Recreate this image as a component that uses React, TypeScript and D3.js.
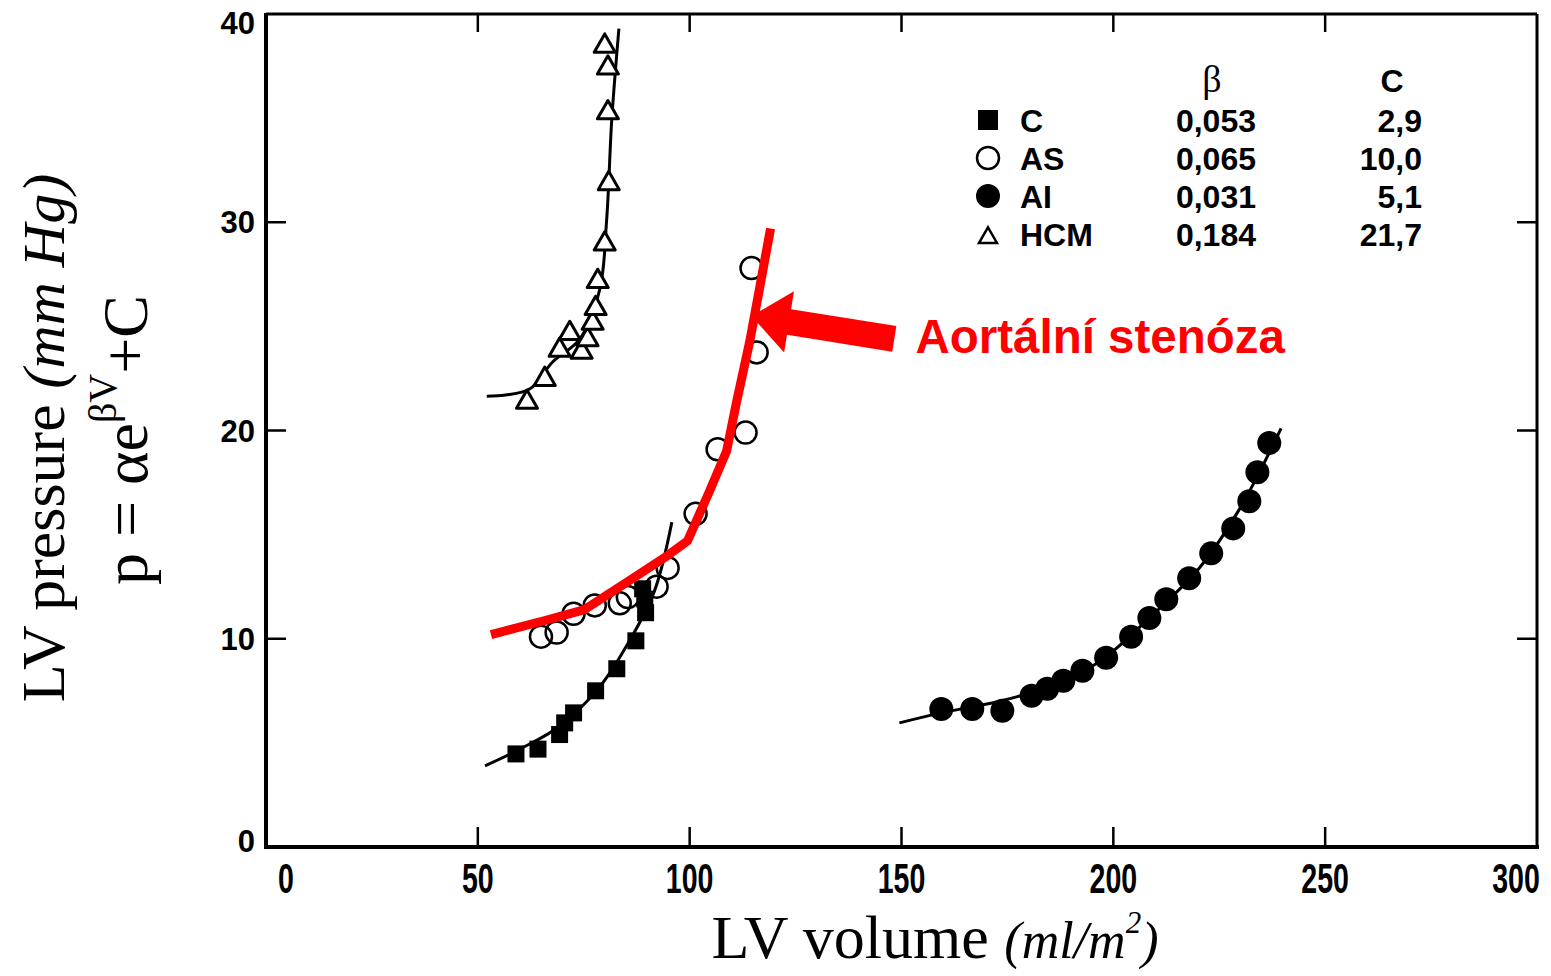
import React from "react";
import * as d3 from "d3";

// ---------- data ----------
const xTicks = [0, 50, 100, 150, 200, 250, 300];
const yTicks = [0, 10, 20, 30, 40];

// HCM (open triangles)
const hcmPoints: [number, number][] = [
  [61.6, 21.4], [65.8, 22.5], [69.3, 23.9], [71.7, 24.7], [74.5, 23.8], [75.9, 24.4],
  [77.1, 25.2], [77.8, 25.9], [78.3, 27.2], [79.95, 29.0], [80.9, 31.9], [80.7, 35.3],
  [80.7, 37.45], [79.95, 38.5],
];
const hcmCurve: [number, number][] = [
  [52.1, 21.65], [56.5, 21.7], [62.3, 22.0], [67.7, 23.3], [74.1, 24.4], [78.8, 26.8],
  [80.4, 30.1], [81.6, 34.9], [82.8, 38.1], [83.3, 39.3],
];

// Control (filled squares)
const cPoints: [number, number][] = [
  [59.0, 4.47], [64.2, 4.7], [69.3, 5.4], [70.5, 5.96], [72.6, 6.44], [77.8, 7.5],
  [82.8, 8.56], [87.3, 9.9], [89.6, 11.25], [89.4, 11.9], [88.9, 12.4],
];
const cCurve: [number, number][] = [
  [51.7, 3.9], [59.9, 4.7], [69.3, 5.8], [78.8, 7.7], [85.8, 9.9], [91.7, 12.3], [95.8, 15.6],
];

// Aortic stenosis (open circles)
const asPoints: [number, number][] = [
  [64.9, 10.1], [68.6, 10.3], [72.6, 11.2], [77.6, 11.6], [83.5, 11.7], [85.4, 12.0],
  [92.2, 12.5], [94.8, 13.4], [101.4, 16.0], [106.6, 19.1], [113.2, 19.9], [115.8, 23.75],
  [114.6, 27.8],
];
// red highlight line
const asRedLine: [number, number][] = [
  [53.1, 10.2], [66.3, 10.9], [75.2, 11.4], [85.8, 12.8], [94.1, 13.9], [99.5, 14.7],
  [104.5, 17.0], [108.7, 19.0], [111.1, 21.4], [114.2, 24.3], [119.1, 29.7],
];

// Aortic insufficiency (filled circles)
const aiPoints: [number, number][] = [
  [159.4, 6.63], [166.7, 6.63], [173.8, 6.54], [180.7, 7.26], [184.4, 7.6], [188.2, 7.98],
  [192.7, 8.46], [198.3, 9.09], [204.2, 10.1], [208.5, 11.0], [212.5, 11.9], [217.9, 12.9],
  [223.1, 14.1], [228.3, 15.3], [232.1, 16.6], [234.0, 18.0], [236.8, 19.4],
];
const aiCurve: [number, number][] = [
  [149.5, 5.96], [159.4, 6.44], [173.1, 7.0], [184.9, 7.7], [196.7, 8.9], [208.5, 11.0],
  [220.3, 13.4], [229.7, 16.2], [239.6, 20.1],
];

// legend table
const legendNames = ["C", "AS", "AI", "HCM"];
const legendBeta = ["0,053", "0,065", "0,031", "0,184"];
const legendC = ["2,9", "10,0", "5,1", "21,7"];

// annotation (data coords)
const arrowTail: [number, number] = [148.3, 24.4];
const arrowTip: [number, number] = [114.6, 25.5];
const annotationText = "Aortální stenóza";
const annotationPos: [number, number] = [153.3, 23.74];

// ---------- layout ----------
const W = 1551;
const H = 976;
const x = d3.scaleLinear().domain([0, 300]).range([266, 1537]);
const y = d3.scaleLinear().domain([0, 40]).range([847, 14]);

const sans = "'Liberation Sans', Arial, Helvetica, sans-serif";
const serif = "'Liberation Serif', 'Times New Roman', Times, serif";

const line = d3
  .line<[number, number]>()
  .x((d) => x(d[0]))
  .y((d) => y(d[1]))
  .curve(d3.curveCatmullRom.alpha(0.5));
const polyline = d3
  .line<[number, number]>()
  .x((d) => x(d[0]))
  .y((d) => y(d[1]));

function triPath(cx: number, cy: number, s: number) {
  const h = s * 0.87;
  return `M${cx},${cy - h * 0.62}L${cx + s / 2},${cy + h * 0.38}L${cx - s / 2},${cy + h * 0.38}Z`;
}

function arrowPolygon() {
  const tx = x(arrowTail[0]), ty = y(arrowTail[1]);
  const px = x(arrowTip[0]), py = y(arrowTip[1]);
  const dx = px - tx, dy = py - ty;
  const len = Math.hypot(dx, dy);
  const ux = dx / len, uy = dy / len;
  const nx = -uy, ny = ux;
  const sw = 13, hw = 31, hl = 38;
  const bx = px - ux * hl, by = py - uy * hl;
  const pts = [
    [tx + nx * sw, ty + ny * sw],
    [bx + nx * sw, by + ny * sw],
    [bx + nx * hw, by + ny * hw],
    [px, py],
    [bx - nx * hw, by - ny * hw],
    [bx - nx * sw, by - ny * sw],
    [tx - nx * sw, ty - ny * sw],
  ];
  return pts.map((p) => p.join(",")).join(" ");
}

const clamp = (v: number, lo: number, hi: number) => Math.max(lo, Math.min(hi, v));

export default function App() {
  const rowY = [132, 170, 208, 246];
  return (
    <svg
      width={W}
      height={H}
      style={{ position: "absolute", left: 0, top: 0, background: "#fff" }}
    >
      <rect x={0} y={0} width={W} height={H} fill="#fff" />
      {/* frame */}
      <line x1={x(0)} x2={x(0)} y1={y(40) - 1} y2={y(0) + 2} stroke="#000" strokeWidth={4} />
      <line x1={x(0) - 2} x2={x(300) + 2} y1={y(0)} y2={y(0)} stroke="#000" strokeWidth={4} />
      <line x1={x(0)} x2={x(300)} y1={y(40)} y2={y(40)} stroke="#000" strokeWidth={3} />
      <line x1={x(300)} x2={x(300)} y1={y(40)} y2={y(0)} stroke="#000" strokeWidth={3} />
      {/* ticks */}
      {xTicks.slice(1, -1).map((t) => (
        <g key={"xt" + t}>
          <line x1={x(t)} x2={x(t)} y1={y(0)} y2={y(0) - 20} stroke="#000" strokeWidth={2.5} />
          <line x1={x(t)} x2={x(t)} y1={y(40)} y2={y(40) + 18} stroke="#000" strokeWidth={2.5} />
        </g>
      ))}
      {yTicks.slice(1, -1).map((t) => (
        <g key={"yt" + t}>
          <line x1={x(0)} x2={x(0) + 20} y1={y(t)} y2={y(t)} stroke="#000" strokeWidth={2.5} />
          <line x1={x(300)} x2={x(300) - 20} y1={y(t)} y2={y(t)} stroke="#000" strokeWidth={2.5} />
        </g>
      ))}
      {/* tick labels */}
      {yTicks.map((t) => (
        <text
          key={"yl" + t}
          x={255}
          y={clamp(y(t), 23, 841) + 11}
          textAnchor="end"
          fontFamily={sans}
          fontWeight="bold"
          fontSize={31}
        >
          {t}
        </text>
      ))}
      {xTicks.map((t) => (
        <g key={"xl" + t} transform={`translate(${clamp(x(t), 286, 1516)},893) scale(0.68,1)`}>
          <text x={0} y={0} textAnchor="middle" fontFamily={sans} fontWeight="bold" fontSize={42}>
            {t}
          </text>
        </g>
      ))}
      {/* axis titles */}
      <text
        x={935}
        y={958}
        textAnchor="middle"
        fontFamily={serif}
        fontSize={62}
      >
        LV volume <tspan fontStyle="italic" fontSize={52}>(ml/m</tspan>
        <tspan fontStyle="italic" fontSize={31} dy={-25}>2</tspan>
        <tspan fontStyle="italic" fontSize={52} dy={25}>)</tspan>
      </text>
      <g transform="translate(64,438) rotate(-90)">
        <text x={0} y={0} textAnchor="middle" fontFamily={serif} fontSize={62}>
          LV pressure <tspan fontStyle="italic" fontSize={60}>(mm Hg)</tspan>
        </text>
      </g>
      <g transform="translate(147,440) rotate(-90)">
        <text x={0} y={0} textAnchor="middle" fontFamily={serif} fontSize={64}>
          p = αe<tspan fontSize={40} dy={-31}>βV</tspan>
          <tspan dy={31}>+C</tspan>
        </text>
      </g>

      {/* fitted curves */}
      <path d={line(hcmCurve) || ""} fill="none" stroke="#000" strokeWidth={3} />
      <path d={line(cCurve) || ""} fill="none" stroke="#000" strokeWidth={3} />
      <path d={line(aiCurve) || ""} fill="none" stroke="#000" strokeWidth={3} />

      {/* markers */}
      {hcmPoints.map((d, i) => (
        <path key={"h" + i} d={triPath(x(d[0]), y(d[1]), 21)} fill="#fff" stroke="#000" strokeWidth={3} strokeLinejoin="round" />
      ))}
      {cPoints.map((d, i) => (
        <rect key={"c" + i} x={x(d[0]) - 8.5} y={y(d[1]) - 8.5} width={17} height={17} fill="#000" />
      ))}
      {asPoints.map((d, i) => (
        <circle key={"a" + i} cx={x(d[0])} cy={y(d[1])} r={11} fill="none" stroke="#000" strokeWidth={2.5} />
      ))}
      {aiPoints.map((d, i) => (
        <circle key={"i" + i} cx={x(d[0])} cy={y(d[1])} r={12} fill="#000" />
      ))}

      {/* red highlight */}
      <path d={polyline(asRedLine) || ""} fill="none" stroke="#ff0000" strokeWidth={9} strokeLinejoin="round" />
      <polygon points={arrowPolygon()} fill="#ff0000" />
      <text
        x={x(annotationPos[0])}
        y={y(annotationPos[1])}
        fontFamily={sans}
        fontWeight="bold"
        fontSize={47.5}
        fill="#ff0000"
      >
        {annotationText}
      </text>

      {/* legend table */}
      <text x={1212} y={92} textAnchor="middle" fontFamily={serif} fontSize={38}>β</text>
      <text x={1392} y={92} textAnchor="middle" fontFamily={sans} fontWeight="bold" fontSize={32}>C</text>
      <rect x={978} y={110} width={20} height={20} fill="#000" />
      <circle cx={988} cy={158} r={11} fill="none" stroke="#000" strokeWidth={2.5} />
      <circle cx={988} cy={196} r={12} fill="#000" />
      <path d={triPath(988, 237, 18)} fill="none" stroke="#000" strokeWidth={2.5} />
      {legendNames.map((n, i) => (
        <g key={"lg" + i} fontFamily={sans} fontWeight="bold" fontSize={32}>
          <text x={1020} y={rowY[i]}>{n}</text>
          <text x={1256} y={rowY[i]} textAnchor="end">{legendBeta[i]}</text>
          <text x={1422} y={rowY[i]} textAnchor="end">{legendC[i]}</text>
        </g>
      ))}
    </svg>
  );
}
